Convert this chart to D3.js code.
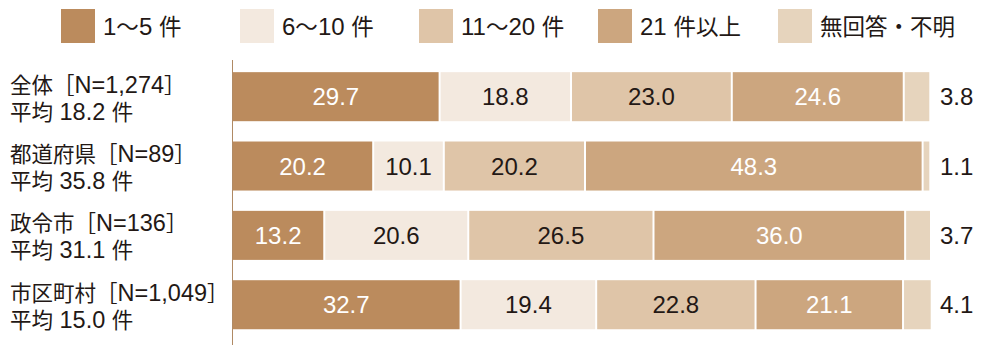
<!DOCTYPE html>
<meta charset="utf-8">
<style>
body {
  margin: 0;
  background-color: #fff;
}
text {
  font-family: "Liberation Sans", "Noto Sans CJK JP", sans-serif;
  fill: #231815;
}
.axis line {
  stroke: #B08A64;
  stroke-width: 1px;
  shape-rendering: crispEdges;
}
</style>
<body>
<svg width="985" height="351"></svg>
<script src="https://cdn.jsdelivr.net/npm/d3@7"></script>
<script>
var groups = ["全体", "都道府県", "政令市", "市区町村"];
var groupN = ["［N=1,274］", "［N=89］", "［N=136］", "［N=1,049］"];
var groupAvg = ["平均 18.2 件", "平均 35.8 件", "平均 31.1 件", "平均 15.0 件"];

var series = ["1〜5 件", "6〜10 件", "11〜20 件", "21 件以上", "無回答・不明"];
var colors = ["#BB8B5D", "#F3E9DF", "#DFC5A8", "#CCA67F", "#E6D4BD"];
var labelColors = ["#fff", "#231815", "#231815", "#fff", "#231815"];

var v1to5   = [29.7, 20.2, 13.2, 32.7];
var v6to10  = [18.8, 10.1, 20.6, 19.4];
var v11to20 = [23.0, 20.2, 26.5, 22.8];
var v21plus = [24.6, 48.3, 36.0, 21.1];
var vNoAns  = [3.8, 1.1, 3.7, 4.1];

var svg = d3.select("svg"),
    margin = {top: 62, right: 53, bottom: 12, left: 233},
    width = +svg.attr("width") - margin.left - margin.right,
    height = +svg.attr("height") - margin.top - margin.bottom;

var rows = groups.map(function(g, i) {
  return {
    group: g,
    values: [v1to5[i], v6to10[i], v11to20[i], v21plus[i], vNoAns[i]]
  };
});

// japanese text with latin digits a bit larger, like the print layout
function mixedText(sel, str, cjkSize, latinSize) {
  var parts = str.match(/[\u3000-\u9fff\uff00-\uffef]+|[^\u3000-\u9fff\uff00-\uffef]+/g);
  parts.forEach(function(p) {
    var cjk = /[\u3000-\u9fff\uff00-\uffef]/.test(p);
    sel.append("tspan")
        .style("font-size", (cjk ? cjkSize : latinSize) + "px")
        .text(p);
  });
}

var x = d3.scaleLinear().domain([0, 100]).range([0, width]);
var y = d3.scaleBand()
    .domain(groups)
    .range([0, 277.4])
    .paddingInner(0.293)
    .paddingOuter(0.1465);

var g = svg.append("g")
    .attr("transform", "translate(" + margin.left + "," + margin.top + ")");

// legend
var legend = svg.append("g").attr("class", "legend");
var legendX = [61, 240, 419, 598, 778];
series.forEach(function(s, i) {
  var item = legend.append("g").attr("transform", "translate(" + legendX[i] + ",9)");
  item.append("rect")
      .attr("width", 34)
      .attr("height", 34)
      .attr("fill", colors[i]);
  var t = item.append("text")
      .attr("x", 42)
      .attr("y", 26);
  mixedText(t, s, 22.5, 24);
});

// bars
var row = g.selectAll(".row")
  .data(rows)
  .enter().append("g")
    .attr("class", "row")
    .attr("transform", function(d) { return "translate(0," + y(d.group) + ")"; });

row.each(function(d) {
  var sel = d3.select(this);
  var acc = 0;
  d.values.forEach(function(v, i) {
    var x0 = x(acc), x1 = x(acc + v);
    acc += v;
    sel.append("rect")
        .attr("x", x0)
        .attr("y", 0)
        .attr("width", Math.max(0, x1 - x0 - 2))
        .attr("height", y.bandwidth())
        .attr("fill", colors[i]);
    if (i < 4) {
      sel.append("text")
          .attr("x", (x0 + x1 - 2) / 2)
          .attr("y", y.bandwidth() / 2)
          .attr("dy", "0.36em")
          .attr("text-anchor", "middle")
          .style("font-size", "24px")
          .style("fill", labelColors[i])
          .text(v.toFixed(1));
    } else {
      sel.append("text")
          .attr("x", width + 8)
          .attr("y", y.bandwidth() / 2)
          .attr("dy", "0.36em")
          .style("font-size", "24px")
          .text(v.toFixed(1));
    }
  });
});

// axis line
g.append("g")
    .attr("class", "axis")
  .append("line")
    .attr("x1", -0.5)
    .attr("x2", -0.5)
    .attr("y1", -2)
    .attr("y2", 283);

// category labels
groups.forEach(function(grp, i) {
  var cy = margin.top + y(grp) + y.bandwidth() / 2;
  var t1 = svg.append("text").attr("x", 10).attr("y", cy - 4);
  mixedText(t1, grp + groupN[i], 21.5, 23.5);
  var t2 = svg.append("text").attr("x", 10).attr("y", cy + 23);
  mixedText(t2, groupAvg[i], 21.5, 23.5);
});
</script>
